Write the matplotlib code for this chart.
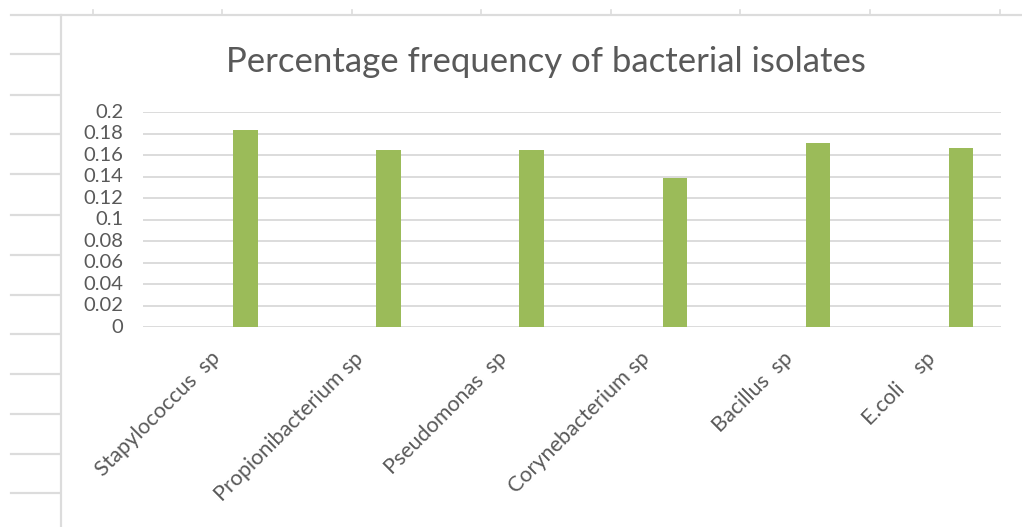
import matplotlib
matplotlib.use("Agg")
import matplotlib.pyplot as plt
from matplotlib.lines import Line2D
from matplotlib.transforms import ScaledTranslation
import numpy as np

# Chart data
categories = ["Stapylococcus  sp", "Propionibacterium sp", "Pseudomonas  sp",
              "Corynebacterium sp", "Bacillus  sp", "E.coli    sp"]
frequency = [0.184, 0.165, 0.165, 0.139, 0.171, 0.167]
y_ticks = [0, 0.02, 0.04, 0.06, 0.08, 0.1, 0.12, 0.14, 0.16, 0.18, 0.2]
y_tick_labels = ["0", "0.02", "0.04", "0.06", "0.08", "0.1", "0.12", "0.14",
                 "0.16", "0.18", "0.2"]
title = "Percentage frequency of bacterial isolates"

W, H = 1022, 527
DPI = 100
TEXT = "#595959"
GRID = "#d9d9d9"
SHEET = "#dcdcdc"
GREEN = "#9bbb59"

plt.rcParams["font.family"] = ["Lato", "DejaVu Sans"]

fig = plt.figure(figsize=(W / DPI, H / DPI), dpi=DPI)
fig.patch.set_facecolor("white")


def px_x(x):
    return x / W


def px_y(y):
    return 1 - y / H


# Worksheet cell borders around the chart
fig.add_artist(Line2D([px_x(11), 1.0], [px_y(15), px_y(15)],
                      color=SHEET, lw=1.6, transform=fig.transFigure))
fig.add_artist(Line2D([px_x(60.5), px_x(60.5)], [px_y(15), 0.0],
                      color=SHEET, lw=1.6, transform=fig.transFigure))
for xc in [93, 222, 352, 481, 611, 740, 870, 1000]:
    fig.add_artist(Line2D([px_x(xc), px_x(xc)], [px_y(10), px_y(15)],
                          color=SHEET, lw=1.2, transform=fig.transFigure))
for yr in [54, 94.5, 134.5, 174.5, 214.5, 254.5, 294.5, 334, 374, 414, 454, 493]:
    fig.add_artist(Line2D([px_x(11), px_x(60)], [px_y(yr), px_y(yr)],
                          color=SHEET, lw=1.6, transform=fig.transFigure))

# Plot area
left, right = 142.7, 1001.0
top, bottom = 112.3, 327.3
ymax = 0.2
ax = fig.add_axes([px_x(left), px_y(bottom), px_x(right - left),
                   (bottom - top) / H])
ax.set_facecolor("none")

x = np.arange(len(categories))
offset = 0.2195
bar_w = 0.171
ax.bar(x + offset, frequency, width=bar_w, color=GREEN, zorder=3)

ax.set_xlim(-0.5, len(categories) - 0.5)
ax.set_ylim(0, ymax)
ax.set_yticks(y_ticks)
ax.set_yticklabels(y_tick_labels)
for yv in y_ticks:
    ax.axhline(yv, color=GRID, lw=1.3, zorder=1)

for s in ax.spines.values():
    s.set_visible(False)

ax.tick_params(axis="y", length=0, pad=14, labelsize=14.5, labelcolor=TEXT)
ax.set_xticks(x)
ax.set_xticklabels(categories, rotation=45, ha="right", va="top",
                   rotation_mode="anchor")
ax.tick_params(axis="x", length=0, pad=15, labelsize=15.5, labelcolor=TEXT)
for lab in ax.get_yticklabels():
    lab.set_verticalalignment("center")
shift = ScaledTranslation(-4 / DPI, 0, fig.dpi_scale_trans)
for lab in ax.get_xticklabels():
    lab.set_transform(lab.get_transform() + shift)

fig.text(px_x(546), px_y(62), title, ha="center", va="center",
         fontsize=25, color=TEXT, fontweight="normal")

fig.savefig("out.png", dpi=DPI, facecolor="white")
